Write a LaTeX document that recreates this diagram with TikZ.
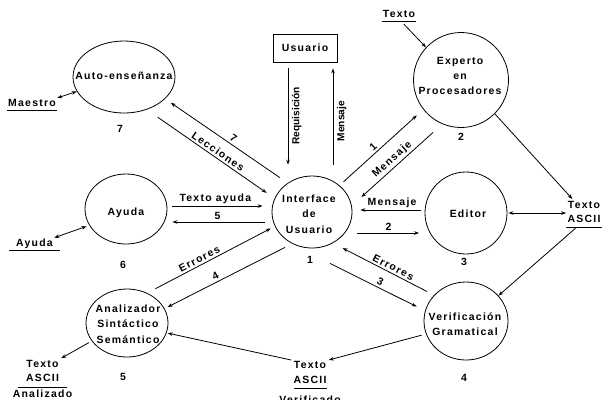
\documentclass[tikz,border=0pt]{standalone}
\usepackage{fontspec}
\setmainfont{Liberation Sans}[LetterSpace=12]
\newfontfamily\narrowlabel{Liberation Sans}
\usetikzlibrary{shapes.geometric,arrows.meta}

\begin{document}
\begin{tikzpicture}[x=1bp, y=-1bp, line width=0.8bp,
  every node/.style={font=\fontsize{10.5}{15.5}\selectfont\bfseries, inner sep=1bp},
  proc/.style={draw, ellipse, inner sep=0pt},
  ptext/.style={align=center},
  entity/.style={draw, rectangle, minimum width=64bp, minimum height=28bp},
  store/.style={align=center, font=\fontsize{10.5}{14.5}\selectfont\bfseries},
  flow/.style={-{Stealth[length=5bp,width=3.6bp]}},
  back/.style={{Stealth[length=5bp,width=3.6bp]}-},
  both/.style={{Stealth[length=5bp,width=3.6bp]}-{Stealth[length=5bp,width=3.6bp]}},
  tag/.style={sloped, above, inner sep=2bp},
  vtag/.style={rotate=90, anchor=north, inner sep=3.5bp,
    font=\fontsize{10.2}{12}\selectfont\narrowlabel\bfseries},
]
\useasboundingbox (0,0) rectangle (603,399);
\clip (0,0) rectangle (603,399);

% external entity
\node[entity] (usr) at (305,48) {Usuario};

% processes
\node[proc, minimum width=102bp, minimum height=72bp] (auto) at (124,77) {};
\node[ptext] (autoT) at (124,76) {Auto-enseñanza};
\node[proc, minimum width=95bp, minimum height=95bp] (exp) at (461,80) {};
\node[ptext] (expT) at (460,76) {Experto\\en\\Procesadores};
\node[proc, minimum width=80bp, minimum height=72bp] (iface) at (312,212) {};
\node[ptext] (ifaceT) at (309,214) {Interface\\de\\Usuario};
\node[proc, minimum width=82bp, minimum height=82bp] (editor) at (466,213) {};
\node[ptext] (editorT) at (468,214) {Editor};
\node[proc, minimum width=82bp, minimum height=70bp] (ayuda) at (126,209) {};
\node[ptext] (ayudaT) at (126,213) {Ayuda};
\node[proc, minimum width=82bp, minimum height=68bp] (anal) at (127,323) {};
\node[ptext] (analT) at (128,324) {Analizador\\Sintáctico\\Semántico};
\node[proc, minimum width=84bp, minimum height=78bp] (verif) at (466,321) {};
\node[ptext] (verifT) at (465,324) {Verificación\\Gramatical};

% process numbers
\node (n7) at (120,129) {7};
\node (n2) at (461,137) {2};
\node (n1) at (310,260) {1};
\node (n3) at (464,262) {3};
\node (n6) at (123,265) {6};
\node (n5) at (123,377) {5};
\node (n4) at (464,378) {4};

% data stores
\node (maestro) at (32,103) {Maestro};
\draw ([yshift=-2bp]maestro.south west) -- ([yshift=-2bp]maestro.south east);
\node (ttexto) at (399,14) {Texto};
\draw ([yshift=-2bp]ttexto.south west) -- ([yshift=-2bp]ttexto.south east);
\node (ayudas) at (34.5,244) {Ayuda};
\draw ([xshift=-6bp]ayudas.south west) -- ([xshift=6bp]ayudas.south east);
\node[store] (rstore) at (584,212) {Texto\\ASCII};
\draw ([yshift=-3bp]rstore.south west) -- ([yshift=-3bp]rstore.south east);
\node[store] (astore) at (42.5,371) {Texto\\ASCII};
\draw ([xshift=-7bp,yshift=-4bp]astore.south west) -- ([xshift=7bp,yshift=-4bp]astore.south east);
\node (aname) at (42.5,394) {Analizado};
\node[store] (vstore) at (310,372.5) {Texto\\ASCII};
\draw ([xshift=2bp,yshift=-3.5bp]vstore.south west) -- ([xshift=-1bp,yshift=-3.5bp]vstore.south east);
\node (vname) at (310,400) {Verificado};

% Usuario <-> Interface
\draw[flow, shorten <=6bp, shorten >=11bp] ([xshift=-17bp]usr.south) -- ([xshift=-17bp]usr.south |- iface.north)
  node[vtag, pos=0.47] {Requisición};
\draw[back, shorten <=6bp, shorten >=11bp] ([xshift=28bp]usr.south) -- ([xshift=28bp]usr.south |- iface.north)
  node[vtag, pos=0.52] {Mensaje};

% Auto-enseñanza <-> Interface
\draw[back, shorten <=6.9bp, shorten >=9.5bp] (auto.-28.7) -- (iface.130) node[tag, pos=0.53] {7};
\draw[flow, shorten <=13.3bp, shorten >=9.6bp] (auto.-55.8) -- (iface.160) node[tag, pos=0.53] {Lecciones};

% Interface <-> Experto
\draw[flow, shorten <=5.2bp, shorten >=8.7bp] (iface.44.4) -- (exp.-142.2) node[tag, pos=0.45] {1};
\draw[back, shorten <=13bp, shorten >=12.5bp] (iface.9.1) -- (exp.-113.2) node[tag, pos=0.5] {Mensaje};

% Interface <-> Editor
\draw[back, shorten <=8bp, shorten >=3.5bp] ([yshift=3bp]editor.west -| iface.east) -- ([yshift=3bp]editor.west)
  node[tag, pos=0.55] {Mensaje};
\draw[flow, shorten <=5bp, shorten >=5.5bp] ([yshift=-20bp]editor.west -| iface.east) -- ([yshift=-20bp]editor.west)
  node[tag, pos=0.5] {2};

% Editor <-> Texto ASCII
\draw[both, shorten <=1bp] (editor.east) -- (editor.east -| rstore.west);

% Ayuda <-> Interface
\draw[flow, shorten <=5bp, shorten >=9bp] ([yshift=3bp]ayuda.east) -- ([yshift=3bp]ayuda.east -| iface.west)
  node[tag, pos=0.46] {Texto ayuda};
\draw[back, shorten <=5bp, shorten >=7bp] ([yshift=-13bp]ayuda.east) -- ([yshift=-13bp]ayuda.east -| iface.west)
  node[tag, pos=0.48] {5};

% Analizador <-> Interface
\draw[flow, shorten <=9.2bp, shorten >=4.6bp] (anal.56.2) -- (iface.-159.4) node[tag, pos=0.43] {Errores};
\draw[back, shorten <=3.3bp, shorten >=8.1bp] (anal.21.3) -- (iface.-122.3) node[tag, pos=0.42] {4};

% Verificacion <-> Interface
\draw[back, shorten <=10.9bp, shorten >=8bp] (iface.-56.8) -- (verif.141.6) node[tag, pos=0.57] {Errores};
\draw[flow, shorten >=9.4bp] ([xshift=18bp,yshift=-15bp]iface.south) -- (verif.166.5) node[tag, pos=0.5] {3};

% flows to and from the data stores
\draw[flow, shorten >=1bp] (exp.-45.9) -- ([xshift=-11bp]rstore.north);
\draw[flow, shorten <=6bp] ([xshift=-4bp]rstore.south) -- (verif.38);
\draw[flow, shorten <=4.5bp, shorten >=1bp] (verif.-162) -- (vstore.north east);
\draw[flow, shorten <=1bp, shorten >=1bp] (vstore.north west) -- (anal.-14);
\draw[flow, shorten <=3.3bp, shorten >=1bp] (anal.-153.2) -- (astore.north east);
\draw[both] (maestro.north east) -- (auto.-163.4);
\draw[both, shorten >=2.8bp] (ayudas.north east) -- (ayuda.-156);
\draw[flow, shorten <=7bp] (ttexto.south) -- (exp.137);
\end{tikzpicture}
\end{document}
